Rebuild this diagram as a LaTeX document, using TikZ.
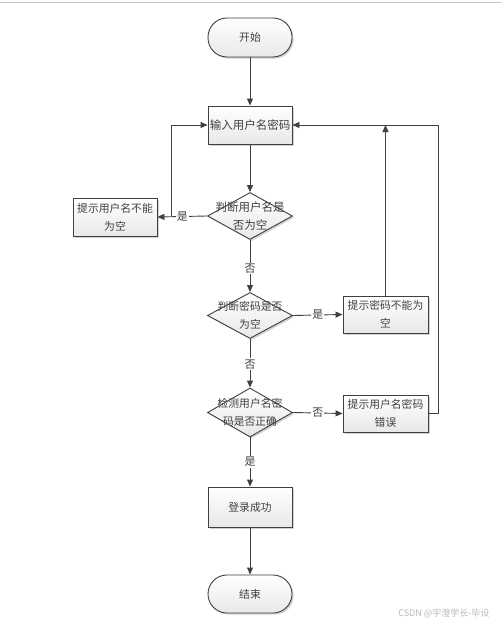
\documentclass[tikz,border=0pt]{standalone}
\usepackage{fontspec}
\setmainfont{Noto Sans CJK SC}
\newfontfamily\wmfont{Noto Sans CJK SC}
\usetikzlibrary{shapes.geometric,arrows.meta,shadows,calc}
\definecolor{linec}{HTML}{404040}
\tikzset{
  base/.style={draw=linec, line width=0.9pt, top color=white, bottom color=gray!18,
    drop shadow={shadow xshift=1.6pt, shadow yshift=-1.6pt, fill=gray!45, opacity=0.8},
    font=\fontsize{10.8}{18}\selectfont, align=center, inner sep=1pt, text=black!75},
  term/.style={base, rectangle, rounded corners=19pt, minimum width=84pt, minimum height=39pt},
  procbox/.style={base, rectangle, minimum width=84pt, minimum height=38pt},
  decis/.style={base, diamond, minimum width=85pt, minimum height=47pt, inner sep=0pt},
  dtext/.style={font=\fontsize{10.8}{18}\selectfont, align=center, text=black!75, inner sep=0pt},
  conn/.style={draw=linec, line width=0.9pt, -{Triangle[length=7pt,width=6pt]}},
  lbl/.style={fill=white, font=\fontsize{11}{13}\selectfont, inner sep=1pt, text=black!75}
}
\begin{document}
\begin{tikzpicture}[x=1pt,y=-1pt]
\useasboundingbox (0,0) rectangle (501,626);
\fill[white] (0,0) rectangle (501,626);
\coordinate (tl) at (0,3);
\coordinate (tr) at (501,3);
\draw[gray!45, line width=1pt] (tl) -- (tr);

\node[term] (start) at (250,37.5) {开始};
\node[procbox, font=\fontsize{11.5}{18}\selectfont] (input) at (250,125) {输入用户名密码};
\node[decis] (d1) at (250,216) {};
\node[dtext, font=\fontsize{11.5}{18}\selectfont] (t1) at (d1.center) {判断用户名是\\否为空};
\node[procbox] (b1) at (115,217) {提示用户名不能\\为空};
\node[decis, minimum height=46pt] (d2) at (250,315.5) {};
\node[dtext] (t2) at (d2.center) {判断密码是否\\为空};
\node[procbox, minimum width=85pt, minimum height=37pt] (b2) at (385.5,314.5) {提示密码不能为\\空};
\node[decis, minimum height=49pt] (d3) at (250,412.5) {};
\node[dtext] (t3) at (d3.center) {检测用户名密\\码是否正确};
\node[procbox, minimum width=85pt, minimum height=37pt] (b3) at (385.5,413.5) {提示用户名密码\\错误};
\node[procbox, minimum height=40pt] (ok) at (250,507) {登录成功};
\node[term, minimum height=38pt] (end) at (250,594) {结束};

\coordinate (j1) at (171,216);
\coordinate (rx) at (438,413.5);

\draw[conn] (start) -- (input);
\draw[conn] (input) -- (d1);
\draw[conn] (d1.west) -- node[lbl, pos=0.5] {是} (b1.east);
\draw[conn] (j1) |- (input.west);
\draw[conn] (d1.south) -- node[lbl, pos=0.55] {否} (d2.north);
\draw[conn] (d2.east) -- node[lbl, pos=0.5] {是} (b2.west);
\draw[conn] (b2.north) -- (b2.north |- input.east);
\draw[conn] (d2.south) -- node[lbl, pos=0.52] {否} (d3.north);
\draw[conn] (d3.east) -- node[lbl, pos=0.5] {否} (b3.west);
\draw[conn] (b3.east) -- (rx) |- (input.east);
\draw[conn] (d3.south) -- node[lbl, pos=0.5] {是} (ok.north);
\draw[conn] (ok) -- (end);

\node[font=\wmfont\fontsize{9}{10}\selectfont, text=gray!55, anchor=east] (wm) at (493,613) {CSDN @宇澄学长-毕设};
\end{tikzpicture}
\end{document}
